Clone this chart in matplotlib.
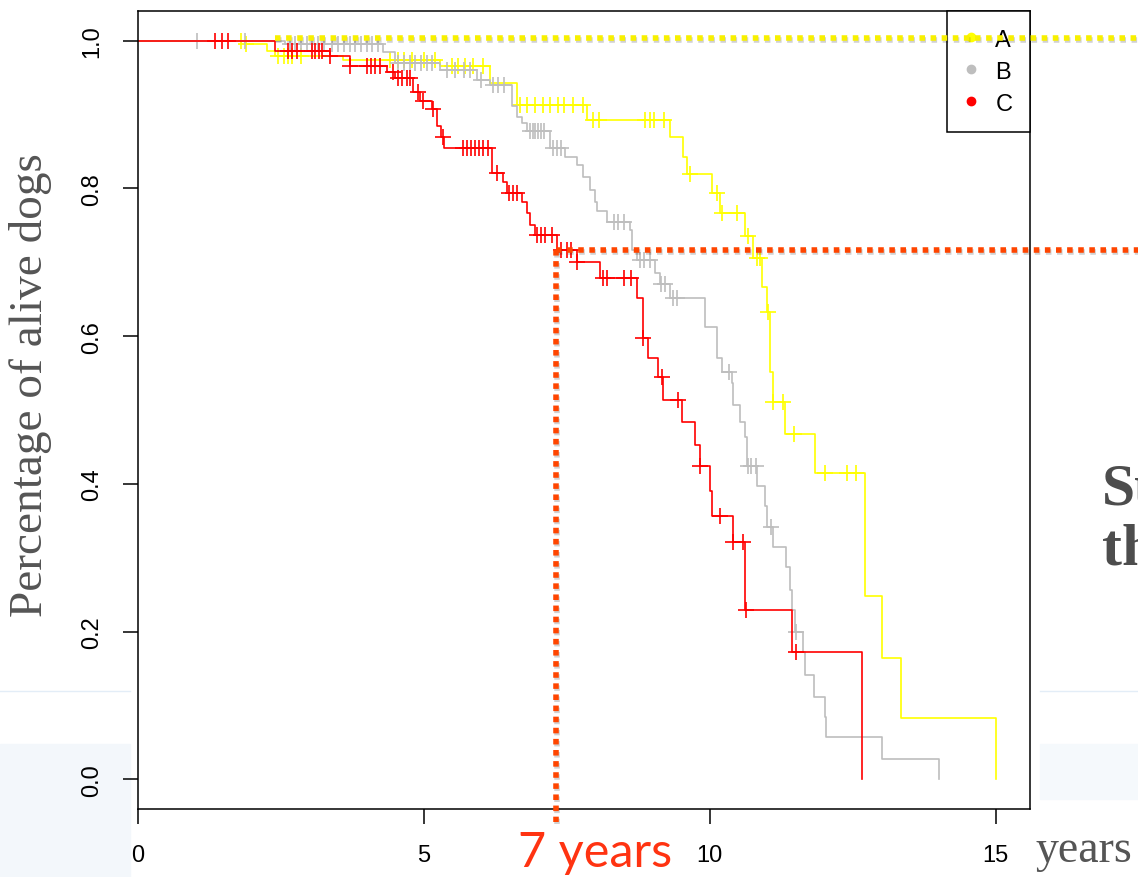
import numpy as np
import matplotlib.pyplot as plt
import matplotlib.patheffects as pe
from matplotlib.patches import Rectangle
from matplotlib.lines import Line2D

# Kaplan-Meier steps: event times (years) and survival after each step
a_times = [1.87, 2.26, 2.40, 3.58, 5.28, 6.15, 6.63, 7.85, 9.30, 9.53, 9.60, 10.03, 10.17,
           10.61, 10.75, 10.91, 11.00, 11.05, 11.10, 11.31, 11.84, 12.71, 13.01, 13.34, 15.00]
a_surv = [0.995, 0.986, 0.979, 0.974, 0.966, 0.943, 0.913, 0.893, 0.870, 0.843, 0.819, 0.794, 0.767,
          0.736, 0.706, 0.667, 0.632, 0.552, 0.511, 0.467, 0.415, 0.248, 0.165, 0.083, 0.0]
a_cens = [1.80, 1.89, 2.45, 2.55, 2.62, 2.70, 2.85, 4.40, 4.55, 4.65, 4.80, 5.00, 5.20, 5.50, 5.60,
          5.72, 5.86, 6.03, 6.68, 6.80, 6.95, 7.08, 7.20, 7.35, 7.45, 7.60, 7.78, 7.95, 8.07, 8.86,
          8.95, 9.03, 9.20, 9.65, 10.12, 10.21, 10.47, 10.66, 10.82, 10.87, 11.01, 11.10, 11.28,
          11.47, 12.01, 12.40, 12.55]

b_times = [2.57, 4.28, 4.49, 5.28, 5.93, 6.15, 6.54, 6.63, 6.71, 6.80, 7.20, 7.47, 7.67, 7.78,
           7.90, 7.99, 8.02, 8.20, 8.60, 8.64, 8.72, 9.04, 9.13, 9.30, 9.91, 10.12, 10.21, 10.38,
           10.40, 10.52, 10.61, 10.65, 10.82, 10.96, 11.00, 11.10, 11.33, 11.40, 11.43, 11.49,
           11.63, 11.66, 11.82, 12.01, 12.03, 13.02, 14.00]
b_surv = [0.995, 0.985, 0.970, 0.960, 0.947, 0.940, 0.911, 0.897, 0.889, 0.877, 0.855, 0.843,
          0.832, 0.816, 0.798, 0.782, 0.769, 0.754, 0.744, 0.717, 0.703, 0.686, 0.670, 0.652,
          0.612, 0.571, 0.551, 0.537, 0.507, 0.484, 0.464, 0.424, 0.397, 0.370, 0.342, 0.315,
          0.287, 0.257, 0.230, 0.200, 0.172, 0.142, 0.112, 0.085, 0.057, 0.027, 0.0]
b_cens = [1.03, 1.87, 2.65, 2.75, 2.85, 2.95, 3.05, 3.15, 3.25, 3.40, 3.50, 3.60, 3.70, 3.80,
          3.90, 4.00, 4.10, 4.20, 4.55, 4.65, 4.75, 4.85, 4.95, 5.05, 5.15, 5.40, 5.55, 5.70,
          5.80, 6.00, 6.20, 6.30, 6.40, 6.85, 6.90, 6.95, 7.00, 7.05, 7.10, 7.25, 7.32, 7.40,
          8.32, 8.40, 8.50, 8.78, 8.85, 8.95, 9.15, 9.22, 9.35, 9.42, 10.33, 10.66, 10.72,
          10.80, 11.07, 11.50]

c_times = [2.40, 3.36, 3.71, 4.35, 4.49, 4.81, 4.93, 5.14, 5.23, 5.30, 5.36, 6.19, 6.38, 6.45,
           6.71, 6.80, 6.85, 6.94, 7.33, 7.67, 8.08, 8.72, 8.83, 8.92, 9.09, 9.18, 9.51, 9.74,
           9.83, 10.00, 10.03, 10.40, 10.61, 11.43, 12.67]
c_surv = [0.986, 0.979, 0.965, 0.957, 0.950, 0.931, 0.918, 0.907, 0.884, 0.869, 0.855, 0.821,
          0.808, 0.794, 0.782, 0.767, 0.751, 0.737, 0.717, 0.700, 0.678, 0.652, 0.598, 0.571,
          0.544, 0.514, 0.484, 0.453, 0.424, 0.390, 0.357, 0.322, 0.230, 0.173, 0.0]
c_cens = [1.35, 1.47, 1.57, 2.62, 2.70, 2.78, 3.04, 3.10, 3.16, 3.22, 3.36, 3.71, 4.00, 4.08,
          4.15, 4.23, 4.46, 4.55, 4.62, 4.70, 4.76, 4.90, 4.98, 5.16, 5.33, 5.68, 5.75, 5.82,
          5.90, 5.97, 6.04, 6.12, 6.28, 6.48, 6.55, 6.62, 6.98, 7.05, 7.12, 7.24, 7.40, 7.50,
          7.58, 7.68, 8.13, 8.20, 8.50, 8.62, 8.83, 9.16, 9.44, 9.83, 10.17, 10.40, 10.58,
          10.63, 11.50]

groups = ["A", "B", "C"]
colors = ["#FFFF00", "#BEBEBE", "#FF0000"]

x_ticks = [0, 5, 10, 15]
y_ticks = [0.0, 0.2, 0.4, 0.6, 0.8, 1.0]

# slide annotation: survival of group C at 7 years
mark_year = 7.31
mark_surv = 0.716
a_start = 2.40

W, H = 1138, 878
fig = plt.figure(figsize=(W / 100, H / 100), dpi=100)

# faint slide background bits
for x0, x1 in [(0, 130), (1040, W)]:
    fig.add_artist(Line2D([x0 / W, x1 / W], [1 - 692 / H] * 2, color="#E3EDF7", lw=1))
fig.add_artist(Rectangle((0, 0), 130 / W, (H - 745) / H, color="#F3F7FB", zorder=0))
fig.add_artist(Rectangle((1040 / W, 1 - 800 / H), (W - 1040) / W, 55 / H, color="#F5F9FC", zorder=0))

ax = fig.add_axes([138 / W, 1 - 810 / H, (1030 - 138) / W, (810 - 12) / H])


def surv_at(times, surv, t):
    full_t = np.r_[0, times]
    full_s = np.r_[1.0, surv]
    idx = np.searchsorted(full_t, t, side="right") - 1
    return full_s[idx]


data = [(a_times, a_surv, a_cens), (b_times, b_surv, b_cens), (c_times, c_surv, c_cens)]
for (t, s, cens), col in zip(data, colors):
    ax.step(np.r_[0, t], np.r_[1.0, s], where="post", color=col, lw=1.2)
    cens = np.array(cens)
    ax.plot(cens, surv_at(t, s, cens), ls="none", marker="+", ms=12, mew=1.2, color=col)

ax.set_xlim(0, 15.6)
ax.set_ylim(-0.04, 1.04)
ax.set_xticks(x_ticks)
ax.set_xticklabels([str(v) for v in x_ticks], family="Liberation Sans")
ax.set_yticks(y_ticks)
ax.set_yticklabels([f"{v:.1f}" for v in y_ticks], rotation=90, va="center", family="Liberation Sans")
ax.tick_params(axis="x", length=11, width=1.1, labelsize=17, pad=14)
ax.tick_params(axis="y", length=11, width=1.1, labelsize=17, pad=14)
for sp in ax.spines.values():
    sp.set_linewidth(1.1)

handles = [Line2D([], [], ls="none", marker="o", ms=6, color=c) for c in colors]
leg = ax.legend(handles, groups, loc="upper right", borderaxespad=0, fontsize=17,
                fancybox=False, framealpha=1, edgecolor="black", borderpad=0.75,
                handlelength=0.55, handletextpad=0.75, labelspacing=0.42)
leg.get_frame().set_linewidth(1.1)
for txt in leg.get_texts():
    txt.set_family("Liberation Sans")

# dotted slide overlays with a soft shadow
shadow = [pe.SimpleLineShadow(offset=(0.5, -1.5), shadow_color="black", alpha=0.18), pe.Normal()]
dot_kw = dict(lw=4, ls=(0, (1, 1)), dash_capstyle="butt", clip_on=False, zorder=10,
              path_effects=shadow)
ax.plot([a_start, 18], [1.003, 1.003], color="#F8F000", **dot_kw)
ax.plot([mark_year, 18], [mark_surv, mark_surv], color="#FF4500", **dot_kw)
ax.plot([mark_year, mark_year], [mark_surv, -0.057], color="#FF4500", **dot_kw)

fig.text(31 / W, 1 - 385 / H, "Percentage of alive dogs", rotation=90, ha="center", va="center",
         family="Liberation Serif", fontsize=34, color="#555555")
fig.text(1035 / W, 1 - 862 / H, "years", ha="left", va="baseline",
         family="Liberation Serif", fontsize=33, color="#555555")
fig.text(518 / W, 1 - 867 / H, "7 years", ha="left", va="baseline",
         family="Lato", fontsize=35, color="#FF3311")
fig.text(1102 / W, 1 - 505 / H, "Su", ha="left", va="baseline", weight="bold",
         family="Liberation Serif", fontsize=43, color="#4D4D4D")
fig.text(1102 / W, 1 - 565 / H, "th", ha="left", va="baseline", weight="bold",
         family="Liberation Serif", fontsize=43, color="#4D4D4D")

fig.savefig("out.png", dpi=100)
